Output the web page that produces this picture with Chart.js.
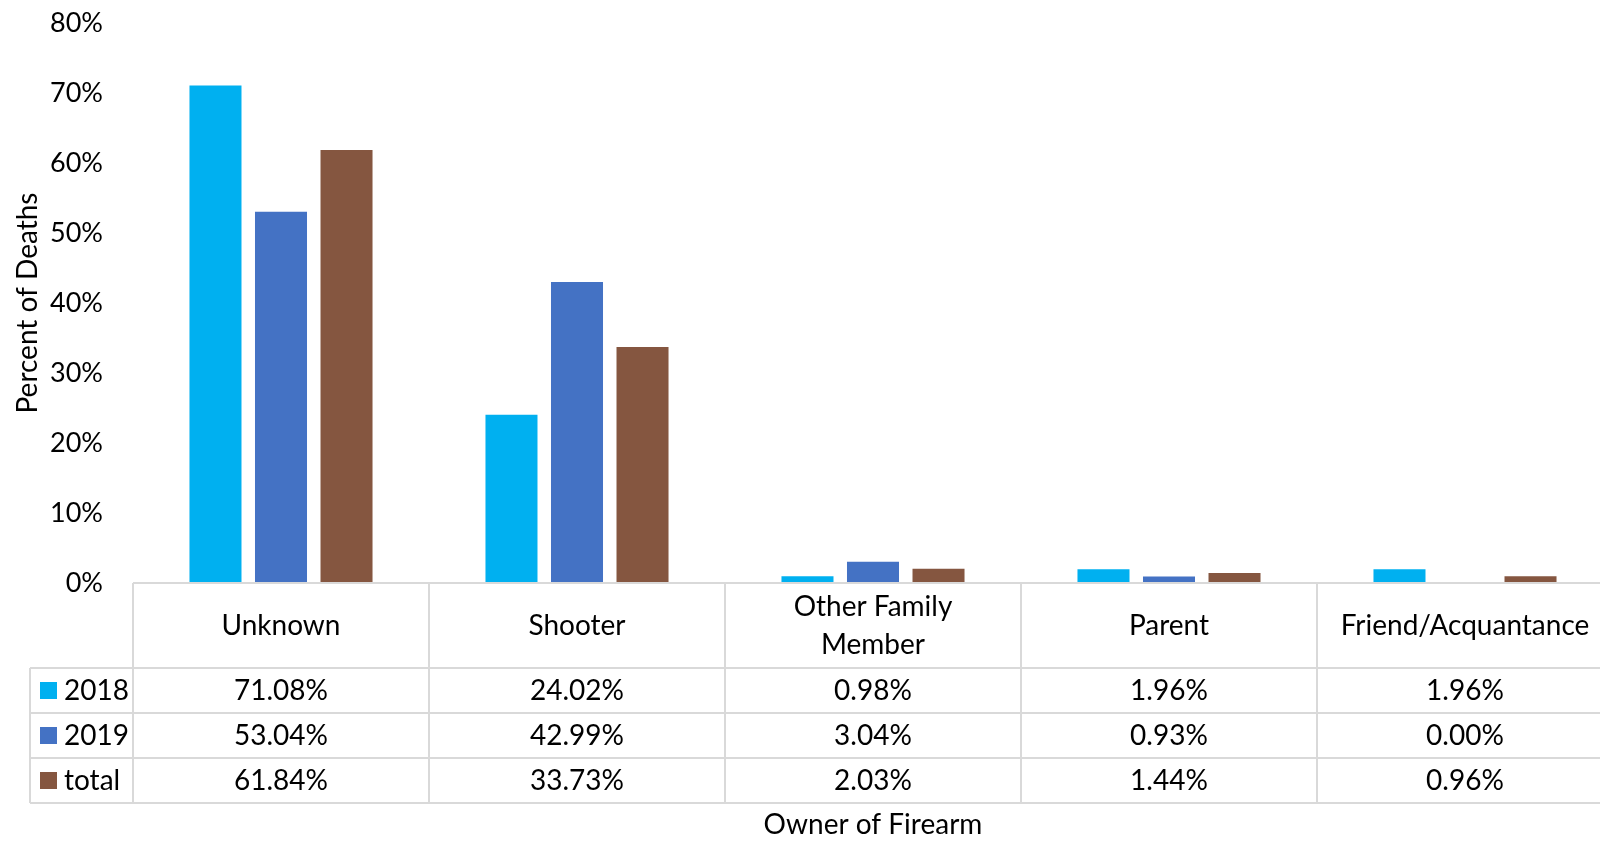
<!DOCTYPE html>
<html>
<head>
<meta charset="utf-8">
<script src="https://cdn.jsdelivr.net/npm/chart.js@4"></script>
<style>
  html, body { margin: 0; padding: 0; background: #fff; overflow: hidden; width: 1600px; height: 841px; }
  #wrap { position: absolute; left: 0; top: 0; width: 1620px; height: 841px; }
</style>
</head>
<body>
<div id="wrap"><canvas id="c" width="1620" height="841"></canvas></div>
<script>
const categories = ['Unknown', 'Shooter', ['Other Family', 'Member'], 'Parent', 'Friend/Acquantance'];
const seriesNames = ['2018', '2019', 'total'];
const values2018 = [71.08, 24.02, 0.98, 1.96, 1.96];
const values2019 = [53.04, 42.99, 3.04, 0.93, 0.00];
const valuesTotal = [61.84, 33.73, 2.03, 1.44, 0.96];
const seriesColors = ['#00B0F0', '#4472C4', '#855640'];
const yTicks = [0, 10, 20, 30, 40, 50, 60, 70, 80];
const xTitle = 'Owner of Firearm';
const yTitle = 'Percent of Deaths';

const FONT = 'Lato, "Open Sans", sans-serif';
const TXT = 28;
const GRID = '#d9d9d9';

const tablePlugin = {
  id: 'dataTable',
  afterDraw(chart) {
    const ctx = chart.ctx;
    const xs = chart.scales.x;
    const ys = chart.scales.y;
    const top = ys.getPixelForValue(0);
    const n = categories.length;
    const cw = (xs.right - xs.left) / n;
    const headerH = 85, rowH = 45;
    const legLeft = 30;
    const rowsTop = top + headerH;
    const bottom = rowsTop + rowH * seriesNames.length;
    ctx.save();
    ctx.strokeStyle = GRID;
    ctx.lineWidth = 2;
    ctx.beginPath();
    ctx.moveTo(xs.left, top); ctx.lineTo(xs.right, top);
    for (let r = 0; r <= seriesNames.length; r++) {
      const y = rowsTop + r * rowH;
      ctx.moveTo(legLeft, y); ctx.lineTo(xs.right, y);
    }
    for (let i = 0; i <= n; i++) {
      const x = xs.getPixelForValue(i) - cw / 2;
      ctx.moveTo(x, top); ctx.lineTo(x, bottom);
    }
    ctx.moveTo(legLeft, rowsTop); ctx.lineTo(legLeft, bottom);
    ctx.stroke();

    ctx.fillStyle = '#000';
    ctx.font = TXT + 'px ' + FONT;
    ctx.textAlign = 'center';
    ctx.textBaseline = 'middle';
    const hc = top + headerH / 2;
    categories.forEach((c, i) => {
      const x = xs.getPixelForValue(i);
      const lines = Array.isArray(c) ? c : [c];
      const lh = 38;
      lines.forEach((l, k) => {
        ctx.fillText(l, x, hc + (k - (lines.length - 1) / 2) * lh);
      });
    });
    chart.data.datasets.forEach((ds, r) => {
      const yc = rowsTop + r * rowH + rowH / 2;
      ds.data.forEach((v, i) => {
        ctx.fillText(v.toFixed(2) + '%', xs.getPixelForValue(i), yc);
      });
      ctx.fillStyle = ds.backgroundColor;
      ctx.fillRect(40, yc - 8.5, 17, 17);
      ctx.fillStyle = '#000';
      ctx.textAlign = 'left';
      ctx.fillText(ds.label, 64, yc);
      ctx.textAlign = 'center';
    });
    ctx.fillText(xTitle, (xs.left + xs.right) / 2, bottom + 22);
    ctx.restore();
  }
};

new Chart(document.getElementById('c'), {
  type: 'bar',
  data: {
    labels: categories,
    datasets: [
      { label: seriesNames[0], data: values2018, backgroundColor: seriesColors[0] },
      { label: seriesNames[1], data: values2019, backgroundColor: seriesColors[1] },
      { label: seriesNames[2], data: valuesTotal, backgroundColor: seriesColors[2] }
    ]
  },
  options: {
    responsive: false,
    animation: false,
    devicePixelRatio: 1,
    layout: { padding: { left: 0, top: 23, right: 7, bottom: 258 } },
    datasets: { bar: { categoryPercentage: 0.664, barPercentage: 0.794 } },
    plugins: { legend: { display: false }, tooltip: { enabled: false } },
    scales: {
      x: { display: false, offset: true },
      y: {
        min: 0, max: 80,
        afterBuildTicks(scale) { scale.ticks = yTicks.map(v => ({ value: v })); },
        afterFit(scale) { scale.width = 133; scale.paddingTop = 0; scale.paddingBottom = 0; },
        grid: { display: false, drawTicks: false },
        border: { display: false },
        ticks: {
          padding: 30,
          color: '#000',
          font: { family: FONT, size: 27 },
          callback: v => v + '%'
        },
        title: {
          display: true,
          text: yTitle,
          color: '#000',
          font: { family: FONT, size: 28 },
          padding: { top: 11, bottom: 0 }
        }
      }
    }
  },
  plugins: [tablePlugin]
});
</script>
</body>
</html>
